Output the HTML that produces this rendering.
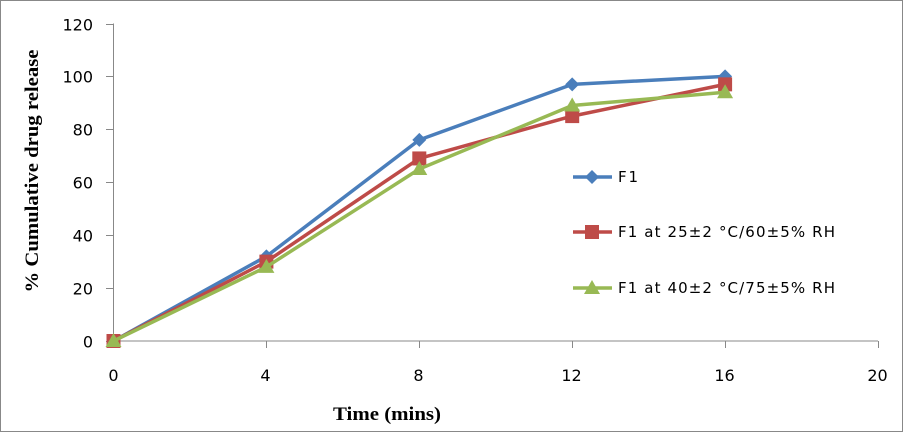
<!DOCTYPE html>
<html><head><meta charset="utf-8"><style>
body{margin:0;background:#fff}
svg{display:block}
text{font-family:"DejaVu Sans","Liberation Sans",sans-serif}
</style></head><body>
<svg id="chart" width="903" height="432">
<rect x="0.5" y="0.5" width="902" height="431" fill="#fff" stroke="#888"/>
<g id="axes"></g><g id="series"></g><g id="legend"></g>
<text transform="translate(38,171) rotate(-90)" text-anchor="middle" font-weight="bold" font-size="19" textLength="243" lengthAdjust="spacingAndGlyphs" style="font-family:'Liberation Serif',serif">% Cumulative drug release</text>
<text x="387" y="420" text-anchor="middle" font-weight="bold" font-size="19" textLength="108" lengthAdjust="spacingAndGlyphs" style="font-family:'Liberation Serif',serif">Time (mins)</text>
</svg>
<script>
const xValues=[0,4,8,12,16];
const seriesNames=["F1","F1 at 25±2 °C/60±5% RH","F1 at 40±2 °C/75±5% RH"];
const f1=[0,32,76,97,100];
const f1At25=[0,30,69,85,97];
const f1At40=[0,28,65,89,94];
const xTicks=[0,4,8,12,16,20];
const yTicks=[0,20,40,60,80,100,120];
const NS="http://www.w3.org/2000/svg";
const X=v=>113.5+v*(878-113.5)/20;
const Y=v=>341-v*(341-23.5)/120;
function mk(t,a,p){const e=document.createElementNS(NS,t);for(const k in a)e.setAttribute(k,a[k]);p.appendChild(e);return e;}
const axes=document.getElementById('axes');
const ya=mk('line',{x1:113.5,y1:23.5,x2:113.5,y2:341,stroke:'#888'},axes);


const xa=mk('line',{x1:113.5,y1:341,x2:878,y2:341,stroke:'#888'},axes);


yTicks.forEach(v=>{const y=Math.round(Y(v))+0.5;
mk('line',{x1:106,y1:y,x2:113.5,y2:y,stroke:'#888'},axes);
const t=mk('text',{x:93,y:y+6,'text-anchor':'end','font-size':16,fill:'#000'},axes);t.textContent=v;

});
xTicks.forEach(v=>{const x=Math.round(X(v))+0.5;
mk('line',{x1:x,y1:341,x2:x,y2:348,stroke:'#888'},axes);
const t=mk('text',{x:x-1,y:381,'text-anchor':'middle','font-size':16,fill:'#000'},axes);t.textContent=v;

});
const colors=['#4a7ebb','#be4b48','#98b954'];
const data=[f1,f1At25,f1At40];
const sg=document.getElementById('series');
function marker(i,x,y,p){
 if(i===0)return mk('polygon',{points:`${x},${y-7} ${x+7},${y} ${x},${y+7} ${x-7},${y}`,fill:colors[i]},p);
 if(i===1)return mk('rect',{x:x-7,y:y-7,width:14,height:14,fill:colors[i]},p);
 return mk('polygon',{points:`${x},${y-8} ${x+8},${y+6} ${x-8},${y+6}`,fill:colors[i]},p);}
data.forEach((d,i)=>{
 const g=mk('g',{},sg);
 
 
 mk('polyline',{points:d.map((v,j)=>X(xValues[j])+','+Y(v)).join(' '),fill:'none',stroke:colors[i],'stroke-width':3.5,'stroke-linejoin':'round'},g);
 d.forEach((v,j)=>{const m=marker(i,X(xValues[j]),Y(v),g);
 
 });
});
const lg=document.getElementById('legend');
const ly=[177,232,288];
const lw=[20,217,217];
seriesNames.forEach((n,i)=>{
 const g=mk('g',{},lg);
 
 
 mk('line',{x1:573,y1:ly[i],x2:612,y2:ly[i],stroke:colors[i],'stroke-width':3.5},g);
 marker(i,592,ly[i],g);
 const t=mk('text',{x:618,y:ly[i]+5,'font-size':15,fill:'#000',textLength:lw[i],lengthAdjust:'spacing'},g);t.textContent=n;
});
</script>
</body></html>
